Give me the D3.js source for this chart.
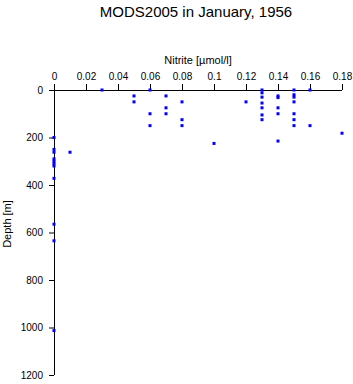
<!DOCTYPE html>
<html>
<head>
<meta charset="utf-8">
<script src="https://cdn.jsdelivr.net/npm/d3@7"></script>
<style>
  body { margin: 0; background: #fff; }
  svg { display: block; font-family: "Liberation Sans", Arial, sans-serif; }
</style>
</head>
<body>
<div class="chart"></div>
<script>
// nitrite values (umol/l) and matching depths (m)
const nitrite = [
  0.03, 0.05, 0.05, 0.06, 0.06, 0.06, 0.07, 0.07, 0.07, 0.08, 0.08, 0.08,
  0, 0, 0, 0, 0, 0, 0, 0, 0, 0, 0,
  0.01, 0.1, 0.12,
  0.13, 0.13, 0.13, 0.13, 0.13, 0.13, 0.13,
  0.14, 0.14, 0.14, 0.14, 0.14,
  0.15, 0.15, 0.15, 0.15, 0.15, 0.15, 0.15,
  0.16, 0.16, 0.18,
];
const depth = [
  0, 25, 50, 0, 100, 150, 25, 75, 100, 50, 125, 150,
  200, 250, 262, 290, 300, 310, 320, 372, 565, 635, 1013,
  262, 225, 50,
  0, 12, 30, 55, 75, 105, 125,
  25, 32, 75, 100, 215,
  0, 20, 30, 50, 100, 125, 150,
  0, 150, 182,
];
const xTicks = [0, 0.02, 0.04, 0.06, 0.08, 0.1, 0.12, 0.14, 0.16, 0.18];
const yTicks = [0, 200, 400, 600, 800, 1000, 1200];

const width = 353;
const height = 384;
const margin = { top: 90, right: 11, bottom: 9, left: 54 };

const svg = d3.select('.chart')
  .append('svg')
  .attr('width', width)
  .attr('height', height);

const x = d3.scaleLinear([0, 0.18], [margin.left, width - margin.right]);
const y = d3.scaleLinear([0, 1200], [margin.top, height - margin.bottom]);

svg.append('text')
  .attr('x', 196)
  .attr('y', 17)
  .attr('text-anchor', 'middle')
  .style('font-size', '15px')
  .text('MODS2005 in January, 1956');

// x axis on top
svg.append('g')
  .attr('transform', `translate(0,${margin.top})`)
  .call(d3.axisTop(x).tickValues(xTicks).tickSize(6).tickPadding(4)
    .tickFormat(d3.format('~g')))
  .call((g) => g.select('.domain').attr('d', `M${margin.left - 5},0.5H${x(0.18)}`))
  .call((g) => g.selectAll('text').style('font-size', '10px').attr('fill', '#000'));

// y axis
svg.append('g')
  .attr('transform', `translate(${margin.left},0)`)
  .call(d3.axisLeft(y).tickValues(yTicks).tickSize(5).tickPadding(6)
    .tickFormat(d3.format('d')))
  .call((g) => g.select('.domain').attr('d', `M0.5,${margin.top}V${y(1200)}`))
  .call((g) => g.selectAll('text').style('font-size', '10px').attr('fill', '#000'));

svg.append('text')
  .attr('x', x(0.09))
  .attr('y', 64)
  .attr('text-anchor', 'middle')
  .style('font-size', '11px')
  .text('Nitrite [\u00b5mol/l]');

svg.append('text')
  .attr('transform', `translate(11,${224}) rotate(-90)`)
  .attr('text-anchor', 'middle')
  .style('font-size', '11px')
  .text('Depth [m]');

const points = nitrite.map((v, i) => ({ v, d: depth[i] }));

svg.append('g')
  .attr('fill', '#0000ff')
  .selectAll('rect')
  .data(points)
  .join('rect')
  .attr('x', (p) => x(p.v) - 1.5)
  .attr('y', (p) => y(p.d) - 1.5)
  .attr('width', 3)
  .attr('height', 3);
</script>
</body>
</html>
